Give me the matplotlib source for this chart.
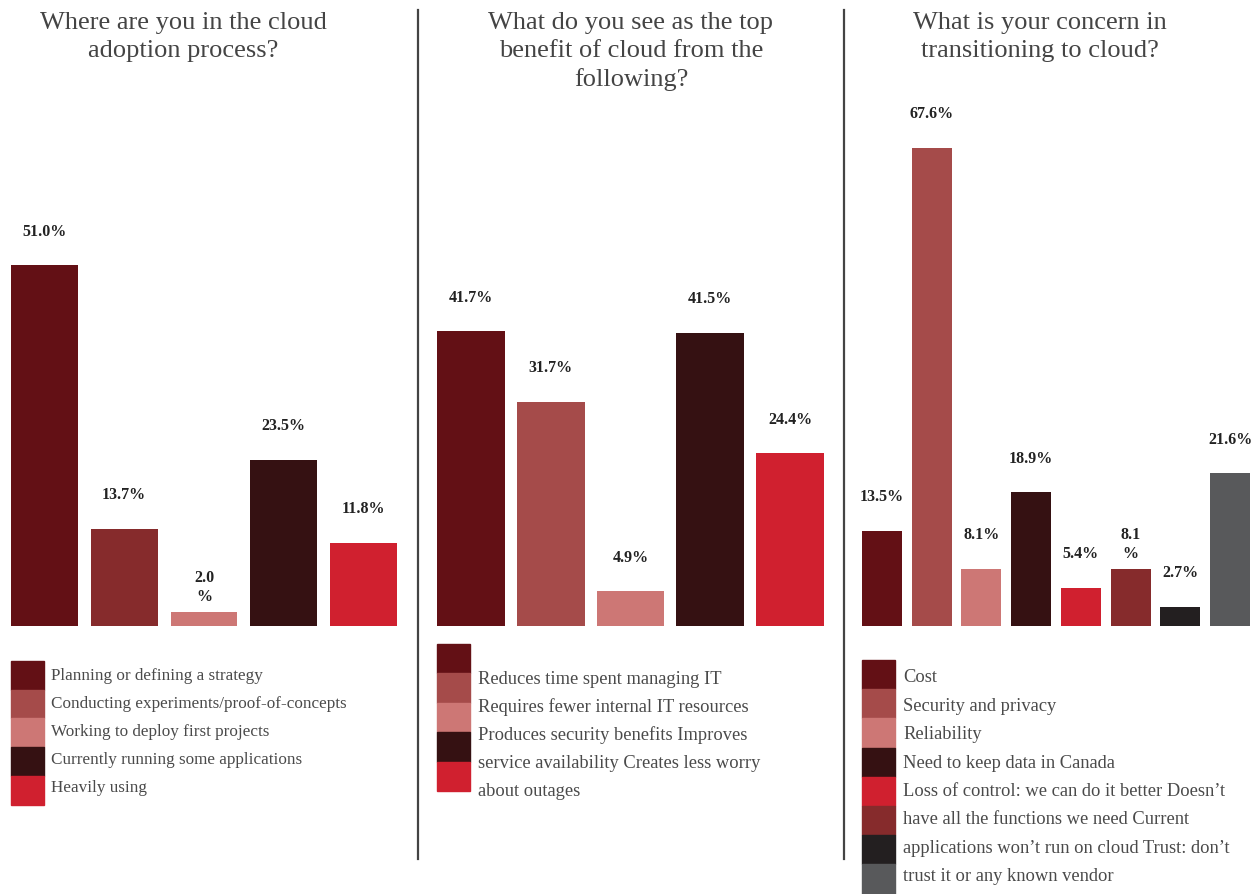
import matplotlib
matplotlib.use("Agg")
import matplotlib.pyplot as plt
from matplotlib.patches import Rectangle
from matplotlib.lines import Line2D

plt.rcParams['font.family'] = ['Liberation Serif', 'DejaVu Serif']

# survey data, one block per question
adoption_title = "Where are you in the cloud\nadoption process?"
adoption_values = [51.0, 13.7, 2.0, 23.5, 11.8]
adoption_labels = ["51.0%", "13.7%", "2.0\n%", "23.5%", "11.8%"]
adoption_legend = ["Planning or defining a strategy",
                   "Conducting experiments/proof-of-concepts",
                   "Working to deploy first projects",
                   "Currently running some applications",
                   "Heavily using"]

benefit_title = "What do you see as the top\nbenefit of cloud from the\nfollowing?"
benefit_values = [41.7, 31.7, 4.9, 41.5, 24.4]
benefit_labels = ["41.7%", "31.7%", "4.9%", "41.5%", "24.4%"]
benefit_legend = ["Reduces time spent managing IT",
                  "Requires fewer internal IT resources",
                  "Produces security benefits Improves",
                  "service availability Creates less worry",
                  "about outages"]

concern_title = "What is your concern in\ntransitioning to cloud?"
concern_values = [13.5, 67.6, 8.1, 18.9, 5.4, 8.1, 2.7, 21.6]
concern_labels = ["13.5%", "67.6%", "8.1%", "18.9%", "5.4%", "8.1\n%", "2.7%", "21.6%"]
concern_legend = ["Cost",
                  "Security and privacy",
                  "Reliability",
                  "Need to keep data in Canada",
                  "Loss of control: we can do it better Doesn\u2019t",
                  "have all the functions we need Current",
                  "applications won\u2019t run on cloud Trust: don\u2019t",
                  "trust it or any known vendor"]

MAROON = "#631015"
ROSE = "#A54B4A"
PINK = "#CD7775"
DARK = "#351112"
RED = "#D0202F"
BRICK = "#862B2C"
BLACK = "#231F20"
GRAY = "#58595B"

adoption_bar_colors = [MAROON, BRICK, PINK, DARK, RED]
adoption_key_colors = [MAROON, ROSE, PINK, DARK, RED]
benefit_colors = [MAROON, ROSE, PINK, DARK, RED]
concern_colors = [MAROON, ROSE, PINK, DARK, RED, BRICK, BLACK, GRAY]

W, H = 1257, 894
fig = plt.figure(figsize=(W / 100, H / 100), dpi=100)

PX_PER_PCT = 7.07
BASE = 626  # baseline, pixels from top
YMAX = 70


def fx(px):
    return px / W


def fy(py):
    return 1 - py / H


def bar_panel(left, right, values, labels, colors, width):
    n = len(values)
    half = width / 2
    ax = fig.add_axes([fx(left), fy(BASE), fx(right - left), YMAX * PX_PER_PCT / H])
    ax.bar(range(n), values, width=width, color=colors)
    ax.set_xlim(-half, n - 1 + half)
    ax.set_ylim(0, YMAX)
    ax.axis('off')
    for i, (v, lab) in enumerate(zip(values, labels)):
        ax.annotate(lab, (i, v), xytext=(0, 30), textcoords='offset points',
                    ha='center', va='top', fontsize=11.5, fontweight='bold',
                    color='#222222', linespacing=1.25)
    return ax


def key(left, top, colors, lines, text_left, text_top, box_h=28.7, line_h=28.5,
        size=12.5):
    for i, c in enumerate(colors):
        fig.patches.append(Rectangle((fx(left), fy(top + (i + 1) * box_h)),
                                     fx(33), box_h / H, color=c,
                                     transform=fig.transFigure))
    for i, line in enumerate(lines):
        fig.text(fx(text_left), fy(text_top + i * line_h), line, fontsize=size,
                 color='#4a4a4a', va='center', ha='left')


# bars
bar_panel(11, 397, adoption_values, adoption_labels, adoption_bar_colors, 0.84)
bar_panel(437, 824, benefit_values, benefit_labels, benefit_colors, 0.85)
bar_panel(862, 1250, concern_values, concern_labels, concern_colors, 0.8)

# question titles
for x, title in [(183, adoption_title), (631, benefit_title), (1040, concern_title)]:
    fig.text(fx(x), fy(12), title, ha='center', va='top', fontsize=19,
             color='#444444', linespacing=1.33)

# legends
key(11, 661, adoption_key_colors, adoption_legend, 51, 676, line_h=27.9, size=12.3)
key(437, 644, benefit_colors, benefit_legend, 478, 679, box_h=29.4, line_h=28.0,
    size=13.3)
key(862, 660, concern_colors, concern_legend, 903, 678, box_h=29.2, line_h=28.4,
    size=13.3)

# panel dividers
for x in (418, 844):
    fig.lines.append(Line2D([fx(x), fx(x)], [fy(10), fy(859)], color='#444444',
                            linewidth=1.6, transform=fig.transFigure))

fig.savefig("out.png", dpi=100, facecolor='white')
